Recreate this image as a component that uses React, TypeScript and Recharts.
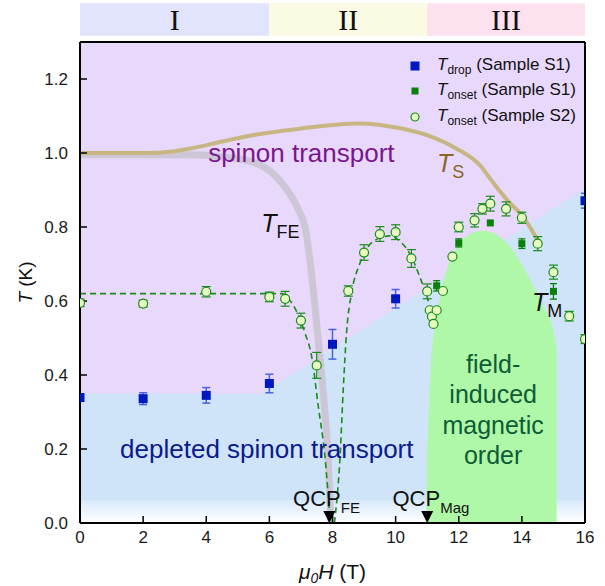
import {
  ComposedChart, XAxis, YAxis, Area, Line, Scatter, ErrorBar,
  ReferenceArea, ReferenceDot, Label, Legend, CartesianGrid,
} from 'recharts';

const SANS = '"Liberation Sans", Arial, sans-serif';
const SERIF = '"Liberation Serif", "Times New Roman", serif';

// regime band along the top
const regionNames = ['I', 'II', 'III'];
const regionBounds = [0, 6, 11, 16];
const regionColors = ['#e2e3fc', '#fbfae3', '#fde1ee'];

const xMajor = [0, 2, 4, 6, 8, 10, 12, 14, 16];
const xMinor = [1, 3, 5, 7, 9, 11, 13, 15];
const yMajor = [0, 0.2, 0.4, 0.6, 0.8, 1.0, 1.2];
const yMinor = [0.1, 0.3, 0.5, 0.7, 0.9, 1.1];

// T_drop, sample S1
const dropS1 = [
  { x: 0, y: 0.339, e: 0.01 },
  { x: 2, y: 0.336, e: 0.016 },
  { x: 4, y: 0.345, e: 0.021 },
  { x: 6, y: 0.377, e: 0.025 },
  { x: 8, y: 0.483, e: 0.04 },
  { x: 10, y: 0.606, e: 0.025 },
  { x: 16, y: 0.871, e: 0.02 },
];

// T_onset, sample S1
const onsetS1 = [
  { x: 11.3, y: 0.641, e: 0.014 },
  { x: 12, y: 0.757, e: 0.011 },
  { x: 13, y: 0.811, e: 0 },
  { x: 14, y: 0.755, e: 0.013 },
  { x: 15, y: 0.626, e: 0.021 },
];

// T_onset, sample S2
const onsetS2 = [
  { x: 0, y: 0.595, e: 0.01 },
  { x: 2, y: 0.593, e: 0.009 },
  { x: 4, y: 0.625, e: 0.014 },
  { x: 6, y: 0.611, e: 0.013 },
  { x: 6.5, y: 0.606, e: 0.02 },
  { x: 7, y: 0.547, e: 0.02 },
  { x: 7.5, y: 0.426, e: 0.035 },
  { x: 8.5, y: 0.627, e: 0.014 },
  { x: 9, y: 0.731, e: 0.021 },
  { x: 9.5, y: 0.781, e: 0.02 },
  { x: 10, y: 0.786, e: 0.02 },
  { x: 10.5, y: 0.715, e: 0.024 },
  { x: 11, y: 0.626, e: 0.02 },
  { x: 11.08, y: 0.575, e: 0 },
  { x: 11.15, y: 0.558, e: 0 },
  { x: 11.2, y: 0.538, e: 0 },
  { x: 11.3, y: 0.575, e: 0 },
  { x: 11.5, y: 0.627, e: 0 },
  { x: 11.8, y: 0.72, e: 0 },
  { x: 12, y: 0.8, e: 0.013 },
  { x: 12.5, y: 0.818, e: 0.018 },
  { x: 12.75, y: 0.849, e: 0.014 },
  { x: 13, y: 0.863, e: 0.02 },
  { x: 13.5, y: 0.849, e: 0.019 },
  { x: 14, y: 0.825, e: 0.015 },
  { x: 14.5, y: 0.755, e: 0.019 },
  { x: 15, y: 0.678, e: 0.019 },
  { x: 15.5, y: 0.559, e: 0.013 },
  { x: 16, y: 0.497, e: 0.012 },
];

// phase boundaries
const depletedTop = [
  { x: 0, y: 0.35 },
  { x: 5.75, y: 0.35 },
  { x: 16, y: 0.905 },
];
const fadeTop = [
  { x: 0, y: 0.062 },
  { x: 16, y: 0.062 },
];
const orderDome = [
  { x: 10.98, y: 0.16 },
  { x: 11.04, y: 0.28 },
  { x: 11.14, y: 0.46 },
  { x: 11.25, y: 0.535 },
  { x: 11.41, y: 0.612 },
  { x: 11.62, y: 0.684 },
  { x: 11.94, y: 0.745 },
  { x: 12.25, y: 0.776 },
  { x: 12.75, y: 0.79 },
  { x: 13.2, y: 0.779 },
  { x: 13.62, y: 0.747 },
  { x: 14.15, y: 0.675 },
  { x: 14.68, y: 0.585 },
  { x: 15.0, y: 0.52 },
  { x: 15.1, y: 0.47 },
];
const tsCurve = [
  { x: 0, y: 1.0 },
  { x: 2, y: 1.0 },
  { x: 3, y: 1.005 },
  { x: 3.5, y: 1.012 },
  { x: 4.5, y: 1.031 },
  { x: 5.6, y: 1.05 },
  { x: 7, y: 1.066 },
  { x: 8.8, y: 1.08 },
  { x: 10.2, y: 1.066 },
  { x: 11.1, y: 1.045 },
  { x: 11.9, y: 1.013 },
  { x: 12.7, y: 0.964 },
  { x: 13.0, y: 0.93 },
  { x: 13.5, y: 0.876 },
  { x: 14.05, y: 0.826 },
  { x: 14.5, y: 0.765 },
];
const tfeCurve = [
  { x: 0, y: 0.995 },
  { x: 3.5, y: 0.995 },
  { x: 4.5, y: 0.99 },
  { x: 5.6, y: 0.972 },
  { x: 6.4, y: 0.918 },
  { x: 6.9, y: 0.85 },
  { x: 7.15, y: 0.79 },
  { x: 7.3, y: 0.7 },
  { x: 7.45, y: 0.58 },
  { x: 7.6, y: 0.45 },
  { x: 7.75, y: 0.31 },
  { x: 7.87, y: 0.16 },
  { x: 7.95, y: 0 },
];
const onsetLeft = [
  { x: 0, y: 0.62 },
  { x: 6.4, y: 0.62 },
  { x: 6.6, y: 0.607 },
  { x: 6.8, y: 0.582 },
  { x: 7.13, y: 0.513 },
  { x: 7.34, y: 0.45 },
  { x: 7.55, y: 0.315 },
  { x: 7.76, y: 0.18 },
  { x: 7.93, y: 0 },
];
const onsetRight = [
  { x: 8.06, y: 0 },
  { x: 8.24, y: 0.18 },
  { x: 8.34, y: 0.36 },
  { x: 8.45, y: 0.52 },
  { x: 8.6, y: 0.62 },
  { x: 8.87, y: 0.702 },
  { x: 9.29, y: 0.761 },
  { x: 9.82, y: 0.776 },
  { x: 10.19, y: 0.757 },
  { x: 10.5, y: 0.72 },
  { x: 10.72, y: 0.675 },
  { x: 10.88, y: 0.639 },
  { x: 11.04, y: 0.599 },
];
const qcp = [
  { x: 7.9, y: 0 },
  { x: 11.0, y: 0 },
];

const legendRows = [
  { kind: 'drop', sub: 'drop', sample: '(Sample S1)' },
  { kind: 's1', sub: 'onset', sample: '(Sample S1)' },
  { kind: 's2', sub: 'onset', sample: '(Sample S2)' },
];

const BLUE = '#0018c0';
const GREEN = '#0a800a';
const LINE_GREEN = '#1a8c1a';
const CIRCLE_FILL = '#e6fcc0';
const CLIP = 'url(#plotClip)';

// label content positioned at a ReferenceDot
const at = (draw: (x: number, y: number) => any) => (props: any) => {
  const vb = props.viewBox || props;
  return draw(vb.x + (vb.width || 0) / 2, vb.y + (vb.height || 0) / 2);
};

const blueSquare = (p: any) => <rect x={p.cx - 4.5} y={p.cy - 4.5} width={9} height={9} fill={BLUE} clipPath={CLIP} />;
const greenSquare = (p: any) => <rect x={p.cx - 3.5} y={p.cy - 3.5} width={7} height={7} fill={GREEN} clipPath={CLIP} />;
const openCircle = (p: any) => (
  <circle cx={p.cx} cy={p.cy} r={4.5} fill={CIRCLE_FILL} stroke={LINE_GREEN} strokeWidth={1.2} clipPath={CLIP} />
);
const triangle = (p: any) => (
  <path d={`M${p.cx - 6},${p.cy - 12} L${p.cx + 6},${p.cy - 12} L${p.cx},${p.cy} Z`} fill="#000" />
);

const tickStyle = { fill: '#1a1a1a', fontSize: 17, fontFamily: SANS };
const axisStroke = { stroke: '#000', strokeWidth: 2 };
const tickStroke = { stroke: '#000', strokeWidth: 1.5 };

function LegendBox() {
  return (
    <div style={{ fontFamily: SANS, fontSize: 17, color: '#111' }}>
      {legendRows.map((r, i) => (
        <div key={i} style={{ display: 'flex', alignItems: 'center', height: 25.5 }}>
          <svg width={16} height={16} style={{ marginRight: 14 }}>
            {r.kind === 'drop' && <rect x={3.5} y={3.5} width={9} height={9} fill={BLUE} />}
            {r.kind === 's1' && <rect x={4.5} y={4.5} width={7} height={7} fill={GREEN} />}
            {r.kind === 's2' && <circle cx={8} cy={8} r={4} fill={CIRCLE_FILL} stroke={LINE_GREEN} strokeWidth={1.2} />}
          </svg>
          <span style={{ whiteSpace: 'nowrap' }}>
            <i>T</i>
            <sub style={{ fontSize: 12 }}>{r.sub}</sub> {r.sample}
          </span>
        </div>
      ))}
    </div>
  );
}

export default function App() {
  return (
    <div style={{ position: 'absolute', left: 0, top: 0, width: 605, height: 586, background: '#fff' }}>
      <ComposedChart width={605} height={586} margin={{ top: 40, right: 18, bottom: 61, left: 78 }}>
        <defs>
          <linearGradient id="fade" x1="0" y1="0" x2="0" y2="1">
            <stop offset="0%" stopColor="#d8e9fb" />
            <stop offset="100%" stopColor="#ffffff" />
          </linearGradient>
          <clipPath id="plotClip">
            <rect x={80} y={42} width={505} height={481} />
          </clipPath>
        </defs>
        <CartesianGrid horizontal={false} vertical={false} fill="#e8d8fc" />

        <XAxis dataKey="x" type="number" domain={[0, 16]} ticks={xMajor} interval={0} height={1}
          allowDataOverflow tick={tickStyle} tickSize={-7} tickMargin={15}
          axisLine={axisStroke} tickLine={tickStroke}>
          <Label content={at((x, y) => (
            <text x={x} y={y + 55} textAnchor="middle" fontFamily={SANS} fontSize={21} fill="#111">
              <tspan fontStyle="italic">μ</tspan>
              <tspan fontStyle="italic" fontSize={14} dy={4}>0</tspan>
              <tspan fontStyle="italic" dy={-4}>H</tspan> (T)
            </text>
          ))} />
        </XAxis>
        <XAxis xAxisId="xmin" type="number" domain={[0, 16]} ticks={xMinor} interval={0} height={1}
          allowDataOverflow tick={false} axisLine={false} tickSize={-4} tickLine={tickStroke} />
        <XAxis xAxisId="top" orientation="top" type="number" domain={[0, 16]} ticks={xMajor} interval={0} height={1}
          allowDataOverflow tick={false} tickSize={-7} axisLine={axisStroke} tickLine={tickStroke} />
        <XAxis xAxisId="topmin" orientation="top" type="number" domain={[0, 16]} ticks={xMinor} interval={0} height={1}
          allowDataOverflow tick={false} tickSize={-4} axisLine={false} tickLine={tickStroke} />

        <YAxis type="number" domain={[0, 1.3]} ticks={yMajor} interval={0} width={1}
          allowDataOverflow tick={tickStyle} tickSize={-7} tickMargin={19} tickFormatter={(v: number) => v.toFixed(1)}
          axisLine={axisStroke} tickLine={tickStroke}>
          <Label content={at((x, y) => (
            <text x={32} y={y} textAnchor="middle" transform={`rotate(-90 32 ${y})`} fontFamily={SANS} fontSize={19} fill="#111">
              <tspan fontStyle="italic">T</tspan> (K)
            </text>
          ))} />
        </YAxis>
        <YAxis yAxisId="ymin" type="number" domain={[0, 1.3]} ticks={yMinor} interval={0} width={1}
          allowDataOverflow tick={false} axisLine={false} tickSize={-4} tickLine={tickStroke} />
        <YAxis yAxisId="right" orientation="right" type="number" domain={[0, 1.3]} ticks={yMajor} interval={0} width={1}
          allowDataOverflow tick={false} tickSize={-7} axisLine={axisStroke} tickLine={tickStroke} />
        <YAxis yAxisId="rightmin" orientation="right" type="number" domain={[0, 1.3]} ticks={yMinor} interval={0} width={1}
          allowDataOverflow tick={false} tickSize={-4} axisLine={false} tickLine={tickStroke} />

        <Area data={depletedTop} dataKey="y" type="linear" fill="#cfe4f9" fillOpacity={1} stroke="none" isAnimationActive={false} />
        <Area data={fadeTop} dataKey="y" type="linear" fill="url(#fade)" fillOpacity={1} stroke="none" isAnimationActive={false} />
        <Area data={orderDome} dataKey="y" type="monotone" fill="#aef8a8" fillOpacity={1} stroke="none" isAnimationActive={false} />

        <Line data={tfeCurve} dataKey="y" type="monotone" stroke="#ccc6d6" strokeWidth={7} dot={false} isAnimationActive={false} />
        <Line data={tsCurve} dataKey="y" type="monotone" stroke="#c8b682" strokeWidth={4} dot={false} isAnimationActive={false} />
        <Line data={onsetLeft} dataKey="y" type="monotone" stroke={LINE_GREEN} strokeWidth={1.6} strokeDasharray="6 4" dot={false} isAnimationActive={false} />
        <Line data={onsetRight} dataKey="y" type="monotone" stroke={LINE_GREEN} strokeWidth={1.6} strokeDasharray="6 4" dot={false} isAnimationActive={false} />

        <Scatter name="Tdrop S1" data={dropS1} dataKey="y" shape={blueSquare} isAnimationActive={false}>
          <ErrorBar dataKey="e" direction="y" width={4} stroke="#4a62e0" strokeWidth={1.5} clipPath={CLIP} />
        </Scatter>
        <Scatter name="Tonset S1" data={onsetS1} dataKey="y" shape={greenSquare} isAnimationActive={false}>
          <ErrorBar dataKey="e" direction="y" width={3.5} stroke={GREEN} strokeWidth={1.3} clipPath={CLIP} />
        </Scatter>
        <Scatter name="Tonset S2" data={onsetS2} dataKey="y" shape={openCircle} isAnimationActive={false}>
          <ErrorBar dataKey="e" direction="y" width={4.5} stroke={LINE_GREEN} strokeWidth={1.2} clipPath={CLIP} />
        </Scatter>
        <Scatter name="QCP" data={qcp} dataKey="y" shape={triangle} isAnimationActive={false} />

        {regionNames.map((name, i) => (
          <ReferenceArea key={name} x1={regionBounds[i]} x2={regionBounds[i + 1]} y1={1.317} y2={1.405}
            ifOverflow="visible" fill={regionColors[i]} fillOpacity={1} stroke="none">
            <Label value={name} position="center" fontFamily={SERIF} fontSize={30} fill="#111" />
          </ReferenceArea>
        ))}

        <ReferenceDot x={4.06} y={0.976} r={0} fill="none" stroke="none" ifOverflow="visible">
          <Label content={at((x, y) => (
            <text x={x} y={y} fontFamily={SANS} fontSize={26} fill="#7b168c">spinon transport</text>
          ))} />
        </ReferenceDot>
        <ReferenceDot x={11.31} y={0.949} r={0} fill="none" stroke="none" ifOverflow="visible">
          <Label content={at((x, y) => (
            <text x={x} y={y} fontFamily={SANS} fontSize={25} fill="#8a6424">
              <tspan fontStyle="italic">T</tspan><tspan fontSize={18} dy={6}>S</tspan>
            </text>
          ))} />
        </ReferenceDot>
        <ReferenceDot x={5.74} y={0.787} r={0} fill="none" stroke="none" ifOverflow="visible">
          <Label content={at((x, y) => (
            <text x={x} y={y} fontFamily={SANS} fontSize={25} fill="#111">
              <tspan fontStyle="italic">T</tspan><tspan fontSize={18} dy={6}>FE</tspan>
            </text>
          ))} />
        </ReferenceDot>
        <ReferenceDot x={14.32} y={0.573} r={0} fill="none" stroke="none" ifOverflow="visible">
          <Label content={at((x, y) => (
            <text x={x} y={y} fontFamily={SANS} fontSize={25} fill="#111">
              <tspan fontStyle="italic">T</tspan><tspan fontSize={18} dy={6}>M</tspan>
            </text>
          ))} />
        </ReferenceDot>
        <ReferenceDot x={1.27} y={0.176} r={0} fill="none" stroke="none" ifOverflow="visible">
          <Label content={at((x, y) => (
            <text x={x} y={y} fontFamily={SANS} fontSize={26} fill="#0b1a8c">depleted spinon transport</text>
          ))} />
        </ReferenceDot>
        <ReferenceDot x={13.09} y={0.406} r={0} fill="none" stroke="none" ifOverflow="visible">
          <Label content={at((x, y) => (
            <text x={x} y={y} textAnchor="middle" fontFamily={SANS} fontSize={25} fill="#0e5c36">
              <tspan x={x} dy={0}>field-</tspan>
              <tspan x={x} dy={30.5}>induced</tspan>
              <tspan x={x} dy={30.5}>magnetic</tspan>
              <tspan x={x} dy={30.5}>order</tspan>
            </text>
          ))} />
        </ReferenceDot>
        <ReferenceDot x={6.75} y={0.046} r={0} fill="none" stroke="none" ifOverflow="visible">
          <Label content={at((x, y) => (
            <text x={x} y={y} fontFamily={SANS} fontSize={22} fill="#111">
              QCP<tspan fontSize={15} dy={7}>FE</tspan>
            </text>
          ))} />
        </ReferenceDot>
        <ReferenceDot x={9.9} y={0.046} r={0} fill="none" stroke="none" ifOverflow="visible">
          <Label content={at((x, y) => (
            <text x={x} y={y} fontFamily={SANS} fontSize={22} fill="#111">
              QCP<tspan fontSize={15} dy={7}>Mag</tspan>
            </text>
          ))} />
        </ReferenceDot>

        <Legend content={() => <LegendBox />} layout="vertical" align="center" verticalAlign="middle"
          wrapperStyle={{ left: 407, top: 53, width: 180, height: 80 }} />
      </ComposedChart>
    </div>
  );
}
